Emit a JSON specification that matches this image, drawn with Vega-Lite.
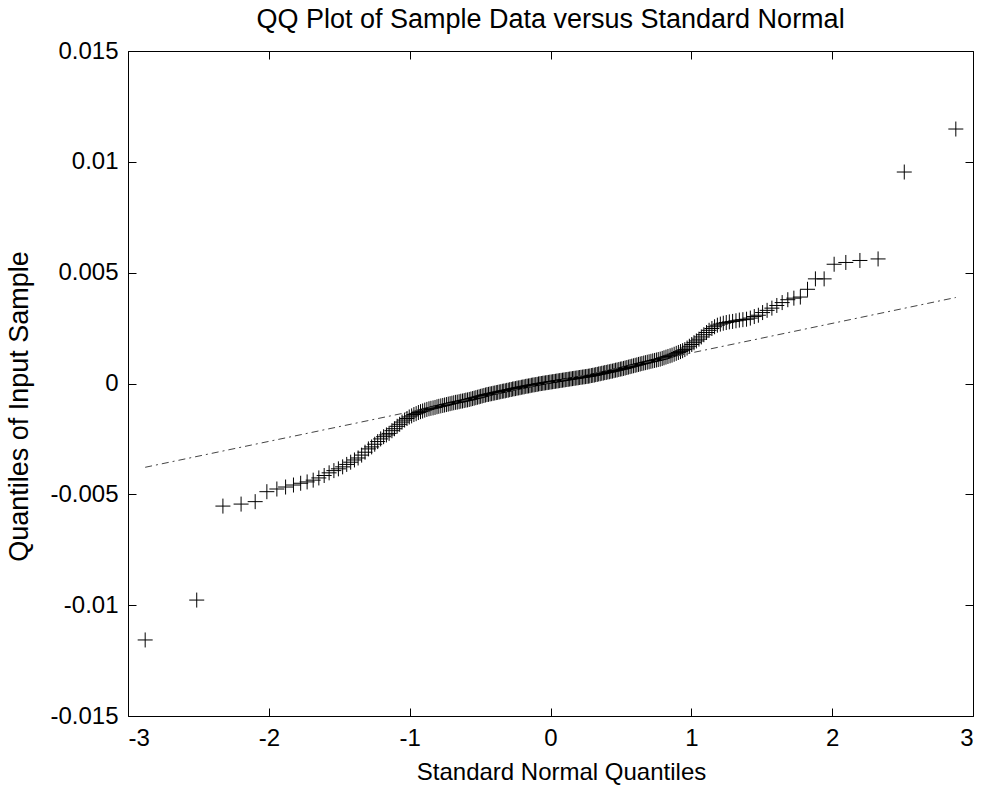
{
  "$schema": "https://vega.github.io/schema/vega-lite/v6.json",
  "width": 845,
  "height": 665,
  "autosize": "none",
  "padding": {"left": 128, "top": 51, "right": 12, "bottom": 73},
  "background": "white",
  "config": {
    "view": {"stroke": "black", "strokeWidth": 1},
    "font": "Liberation Sans",
    "axis": {
      "domain": false,
      "grid": false,
      "ticks": true,
      "tickColor": "black",
      "tickSize": -8,
      "tickWidth": 1,
      "labelFont": "Liberation Sans",
      "labelFontSize": 24,
      "labelColor": "black",
      "titleFont": "Liberation Sans",
      "titleFontSize": 24,
      "titleFontWeight": "normal",
      "titleColor": "black"
    }
  },
  "title": {"text": "QQ Plot of Sample Data versus Standard Normal", "fontSize": 27, "fontWeight": "normal", "font": "Liberation Sans", "color": "black", "offset": 5},
  "datasets": {
    "pts": [
      {"x":-2.878,"y":-0.01157},{"x":-2.512,"y":-0.00977},{"x":-2.326,"y":-0.00553},{"x":-2.197,"y":-0.00544},{"x":-2.097,"y":-0.00533},
      {"x":-2.014,"y":-0.00488},{"x":-1.943,"y":-0.00476},{"x":-1.881,"y":-0.00467},{"x":-1.825,"y":-0.00458},{"x":-1.774,"y":-0.0045},
      {"x":-1.728,"y":-0.00444},{"x":-1.685,"y":-0.00436},{"x":-1.645,"y":-0.00426},{"x":-1.607,"y":-0.00415},{"x":-1.572,"y":-0.00403},
      {"x":-1.538,"y":-0.00393},{"x":-1.506,"y":-0.00385},{"x":-1.476,"y":-0.00376},{"x":-1.447,"y":-0.00365},{"x":-1.419,"y":-0.00355},
      {"x":-1.392,"y":-0.00345},{"x":-1.366,"y":-0.00336},{"x":-1.341,"y":-0.00323},{"x":-1.317,"y":-0.0031},{"x":-1.293,"y":-0.00295},
      {"x":-1.27,"y":-0.00286},{"x":-1.248,"y":-0.00274},{"x":-1.227,"y":-0.00262},{"x":-1.206,"y":-0.0025},{"x":-1.185,"y":-0.0024},
      {"x":-1.165,"y":-0.00232},{"x":-1.146,"y":-0.00225},{"x":-1.126,"y":-0.00213},{"x":-1.108,"y":-0.00204},{"x":-1.089,"y":-0.00193},
      {"x":-1.071,"y":-0.00184},{"x":-1.054,"y":-0.00174},{"x":-1.036,"y":-0.00165},{"x":-1.019,"y":-0.00158},{"x":-1.003,"y":-0.00151},
      {"x":-0.986,"y":-0.00146},{"x":-0.97,"y":-0.0014},{"x":-0.954,"y":-0.00136},{"x":-0.938,"y":-0.00131},{"x":-0.923,"y":-0.00127},
      {"x":-0.908,"y":-0.00124},{"x":-0.893,"y":-0.0012},{"x":-0.878,"y":-0.00117},{"x":-0.863,"y":-0.00114},{"x":-0.849,"y":-0.00112},
      {"x":-0.834,"y":-0.0011},{"x":-0.82,"y":-0.00108},{"x":-0.806,"y":-0.00105},{"x":-0.793,"y":-0.00103},{"x":-0.779,"y":-0.00101},
      {"x":-0.765,"y":-0.00099},{"x":-0.752,"y":-0.00097},{"x":-0.739,"y":-0.00095},{"x":-0.726,"y":-0.00093},{"x":-0.713,"y":-0.00091},
      {"x":-0.7,"y":-0.00089},{"x":-0.687,"y":-0.00087},{"x":-0.674,"y":-0.00085},{"x":-0.662,"y":-0.00084},{"x":-0.649,"y":-0.00082},
      {"x":-0.637,"y":-0.0008},{"x":-0.625,"y":-0.00079},{"x":-0.613,"y":-0.00077},{"x":-0.601,"y":-0.00075},{"x":-0.589,"y":-0.00074},
      {"x":-0.577,"y":-0.00072},{"x":-0.565,"y":-0.0007},{"x":-0.553,"y":-0.00068},{"x":-0.542,"y":-0.00066},{"x":-0.53,"y":-0.00064},
      {"x":-0.519,"y":-0.00062},{"x":-0.507,"y":-0.0006},{"x":-0.496,"y":-0.00058},{"x":-0.485,"y":-0.00056},{"x":-0.473,"y":-0.00054},
      {"x":-0.462,"y":-0.00052},{"x":-0.451,"y":-0.0005},{"x":-0.44,"y":-0.00049},{"x":-0.429,"y":-0.00047},{"x":-0.418,"y":-0.00046},
      {"x":-0.407,"y":-0.00044},{"x":-0.396,"y":-0.00043},{"x":-0.385,"y":-0.00041},{"x":-0.375,"y":-0.0004},{"x":-0.364,"y":-0.00038},
      {"x":-0.353,"y":-0.00037},{"x":-0.342,"y":-0.00035},{"x":-0.332,"y":-0.00034},{"x":-0.321,"y":-0.00033},{"x":-0.311,"y":-0.00031},
      {"x":-0.3,"y":-0.0003},{"x":-0.29,"y":-0.00028},{"x":-0.279,"y":-0.00027},{"x":-0.269,"y":-0.00025},{"x":-0.259,"y":-0.00024},
      {"x":-0.248,"y":-0.00023},{"x":-0.238,"y":-0.00021},{"x":-0.228,"y":-0.0002},{"x":-0.217,"y":-0.00019},{"x":-0.207,"y":-0.00017},
      {"x":-0.197,"y":-0.00016},{"x":-0.187,"y":-0.00015},{"x":-0.176,"y":-0.00013},{"x":-0.166,"y":-0.00012},{"x":-0.156,"y":-0.00011},
      {"x":-0.146,"y":-0.0001},{"x":-0.136,"y":-0.00008},{"x":-0.126,"y":-0.00007},{"x":-0.116,"y":-0.00006},{"x":-0.105,"y":-0.00005},
      {"x":-0.095,"y":-0.00004},{"x":-0.085,"y":-0.00002},{"x":-0.075,"y":-0.00001},{"x":-0.065,"y":0},{"x":-0.055,"y":0.00001},
      {"x":-0.045,"y":0.00002},{"x":-0.035,"y":0.00003},{"x":-0.025,"y":0.00004},{"x":-0.015,"y":0.00005},{"x":-0.005,"y":0.00006},
      {"x":0.005,"y":0.00007},{"x":0.015,"y":0.00008},{"x":0.025,"y":0.00009},{"x":0.035,"y":0.0001},{"x":0.045,"y":0.00011},
      {"x":0.055,"y":0.00012},{"x":0.065,"y":0.00013},{"x":0.075,"y":0.00014},{"x":0.085,"y":0.00015},{"x":0.095,"y":0.00016},
      {"x":0.105,"y":0.00017},{"x":0.116,"y":0.00018},{"x":0.126,"y":0.00019},{"x":0.136,"y":0.0002},{"x":0.146,"y":0.00021},
      {"x":0.156,"y":0.00022},{"x":0.166,"y":0.00023},{"x":0.176,"y":0.00024},{"x":0.187,"y":0.00025},{"x":0.197,"y":0.00026},
      {"x":0.207,"y":0.00027},{"x":0.217,"y":0.00028},{"x":0.228,"y":0.00029},{"x":0.238,"y":0.0003},{"x":0.248,"y":0.00031},
      {"x":0.259,"y":0.00032},{"x":0.269,"y":0.00033},{"x":0.279,"y":0.00034},{"x":0.29,"y":0.00036},{"x":0.3,"y":0.00037},
      {"x":0.311,"y":0.00038},{"x":0.321,"y":0.0004},{"x":0.332,"y":0.00041},{"x":0.342,"y":0.00043},{"x":0.353,"y":0.00044},
      {"x":0.364,"y":0.00046},{"x":0.375,"y":0.00047},{"x":0.385,"y":0.00049},{"x":0.396,"y":0.0005},{"x":0.407,"y":0.00052},
      {"x":0.418,"y":0.00053},{"x":0.429,"y":0.00055},{"x":0.44,"y":0.00056},{"x":0.451,"y":0.00058},{"x":0.462,"y":0.0006},
      {"x":0.473,"y":0.00061},{"x":0.485,"y":0.00063},{"x":0.496,"y":0.00065},{"x":0.507,"y":0.00066},{"x":0.519,"y":0.00068},
      {"x":0.53,"y":0.0007},{"x":0.542,"y":0.00072},{"x":0.553,"y":0.00074},{"x":0.565,"y":0.00076},{"x":0.577,"y":0.00078},
      {"x":0.589,"y":0.0008},{"x":0.601,"y":0.00082},{"x":0.613,"y":0.00084},{"x":0.625,"y":0.00086},{"x":0.637,"y":0.00088},
      {"x":0.649,"y":0.0009},{"x":0.662,"y":0.00092},{"x":0.674,"y":0.00094},{"x":0.687,"y":0.00096},{"x":0.7,"y":0.00098},
      {"x":0.713,"y":0.001},{"x":0.726,"y":0.00102},{"x":0.739,"y":0.00104},{"x":0.752,"y":0.00106},{"x":0.765,"y":0.00108},
      {"x":0.779,"y":0.0011},{"x":0.793,"y":0.00113},{"x":0.806,"y":0.00116},{"x":0.82,"y":0.00119},{"x":0.834,"y":0.00122},
      {"x":0.849,"y":0.00125},{"x":0.863,"y":0.00128},{"x":0.878,"y":0.00132},{"x":0.893,"y":0.00136},{"x":0.908,"y":0.0014},
      {"x":0.923,"y":0.00144},{"x":0.938,"y":0.00148},{"x":0.954,"y":0.00153},{"x":0.97,"y":0.0016},{"x":0.986,"y":0.00168},
      {"x":1.003,"y":0.00176},{"x":1.019,"y":0.00184},{"x":1.036,"y":0.00192},{"x":1.054,"y":0.002},{"x":1.071,"y":0.0021},
      {"x":1.089,"y":0.0022},{"x":1.108,"y":0.0023},{"x":1.126,"y":0.0024},{"x":1.146,"y":0.00248},{"x":1.165,"y":0.00256},
      {"x":1.185,"y":0.00263},{"x":1.206,"y":0.00268},{"x":1.227,"y":0.00272},{"x":1.248,"y":0.00275},{"x":1.27,"y":0.00278},
      {"x":1.293,"y":0.0028},{"x":1.317,"y":0.00283},{"x":1.341,"y":0.00286},{"x":1.366,"y":0.00288},{"x":1.392,"y":0.0029},
      {"x":1.419,"y":0.00295},{"x":1.447,"y":0.00302},{"x":1.476,"y":0.00308},{"x":1.506,"y":0.0032},{"x":1.538,"y":0.0033},
      {"x":1.572,"y":0.0034},{"x":1.607,"y":0.00352},{"x":1.645,"y":0.00365},{"x":1.685,"y":0.00378},{"x":1.728,"y":0.00385},
      {"x":1.774,"y":0.0039},{"x":1.825,"y":0.00425},{"x":1.881,"y":0.00472},{"x":1.943,"y":0.00472},{"x":2.014,"y":0.00538},
      {"x":2.097,"y":0.00546},{"x":2.197,"y":0.00555},{"x":2.326,"y":0.00562},{"x":2.512,"y":0.00954},{"x":2.878,"y":0.01148}
    ],
    "ref": [
      {"x":-2.878,"y":-0.00378},{"x":2.878,"y":0.00388}
    ]
  },
  "layer": [
    {
      "data": {"name": "pts"},
      "mark": {"type": "point", "shape": "M-1,0L1,0M0,-1L0,1", "size": 225, "filled": false, "stroke": "black", "strokeWidth": 1, "opacity": 1},
      "encoding": {
        "x": {"field": "x", "type": "quantitative",
              "scale": {"domain": [-3, 3], "nice": false, "zero": false},
              "axis": {"orient": "bottom", "values": [-3,-2,-1,0,1,2,3], "labelExpr": "replace(format(datum.value, 'd'), '\u2212', '-')", "labelPadding": 18, "title": "Standard Normal Quantiles", "titlePadding": 10, "titleX": 433}},
        "y": {"field": "y", "type": "quantitative",
              "scale": {"domain": [-0.015, 0.015], "nice": false, "zero": false},
              "axis": {"orient": "left", "values": [-0.015,-0.01,-0.005,0,0.005,0.01,0.015], "labelExpr": "replace(format(datum.value, '.3~f'), '\u2212', '-')", "labelPadding": 18, "title": "Quantiles of Input Sample", "titleFontSize": 27, "titlePadding": 16, "titleY": 355}}
      }
    },
    {
      "data": {"name": "ref"},
      "mark": {"type": "line", "stroke": "#444444", "strokeWidth": 1, "strokeDash": [7, 4, 2, 4]},
      "encoding": {
        "x": {"field": "x", "type": "quantitative", "axis": {"orient": "top", "values": [-3,-2,-1,0,1,2,3], "labels": false, "title": null}},
        "y": {"field": "y", "type": "quantitative", "axis": {"orient": "right", "values": [-0.015,-0.01,-0.005,0,0.005,0.01,0.015], "labels": false, "title": null}}
      }
    }
  ],
  "resolve": {"axis": {"x": "independent", "y": "independent"}}
}
